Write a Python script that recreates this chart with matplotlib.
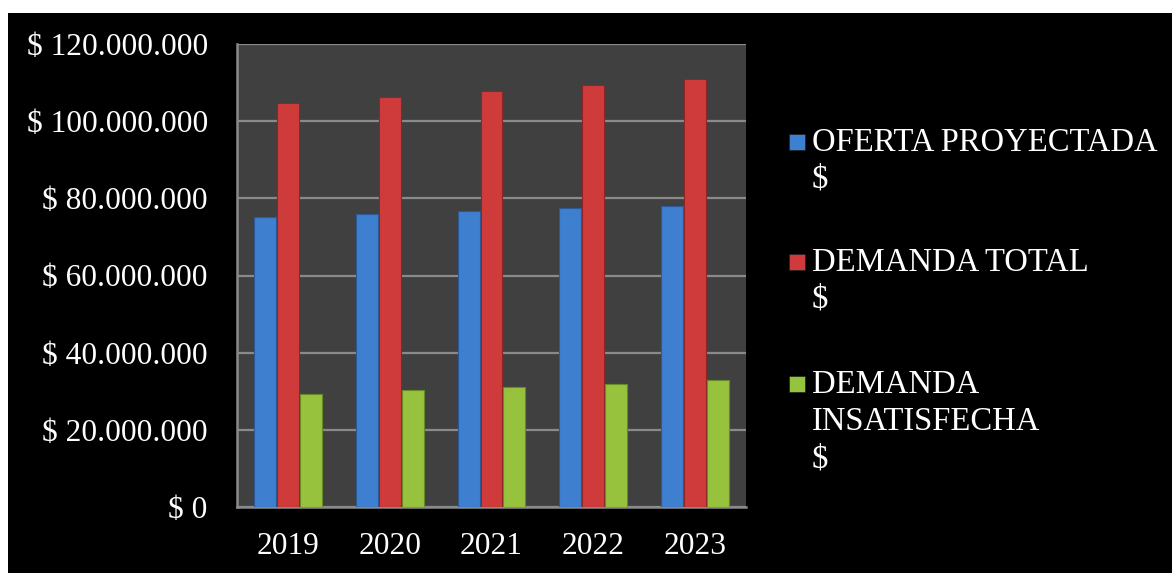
import matplotlib
matplotlib.use("Agg")
import matplotlib.pyplot as plt
from matplotlib.patches import Rectangle
from matplotlib.ticker import FuncFormatter, MultipleLocator
import numpy as np

years = ["2019", "2020", "2021", "2022", "2023"]
oferta = [75.2e6, 76.0e6, 76.8e6, 77.6e6, 78.1e6]
demanda_total = [104.6e6, 106.2e6, 107.9e6, 109.5e6, 111.0e6]
demanda_insat = [29.4e6, 30.2e6, 31.1e6, 31.9e6, 32.9e6]

series_labels = [["OFERTA PROYECTADA", "$"],
                 ["DEMANDA TOTAL", "$"],
                 ["DEMANDA", "INSATISFECHA", "$"]]
colors = ["#3F7FCF", "#CF3B3B", "#97C23E"]
edges = ["#2A5A98", "#8E2626", "#6A8A28"]

plt.rcParams['font.family'] = ['Liberation Serif', 'DejaVu Serif']

W, H = 1172, 573
fig = plt.figure(figsize=(W / 100, H / 100), dpi=100)
fig.patch.set_facecolor("white")
# black chart area (white margin on top and left)
fig.patches.append(Rectangle((8 / W, 0), 1, (H - 13) / H, transform=fig.transFigure,
                             facecolor="black", edgecolor="none", zorder=-10))

ax = fig.add_axes([237 / W, (H - 507) / H, 509 / W, 463 / H])
ax.set_facecolor("#404040")

x = np.arange(len(years))
w = 0.215
off = 0.225
for i, vals in enumerate([oferta, demanda_total, demanda_insat]):
    ax.bar(x + (i - 1) * off, vals, width=w, color=colors[i],
           edgecolor=edges[i], linewidth=0.8, zorder=3)

ax.set_xlim(-0.5, len(years) - 0.5)
ax.set_ylim(0, 120e6)
ax.yaxis.set_major_locator(MultipleLocator(20e6))
ax.yaxis.set_major_formatter(FuncFormatter(lambda v, p: "$ " + f"{int(v):,}".replace(",", ".")))
ax.grid(axis="y", color="#8a8a8a", linewidth=1.6, zorder=1)
ax.set_xticks(x)
ax.set_xticklabels(years)

for s in ["top", "right"]:
    ax.spines[s].set_visible(False)
for s in ["left", "bottom"]:
    ax.spines[s].set_color("#8a8a8a")
    ax.spines[s].set_linewidth(1.8)

ax.tick_params(axis="y", length=0, pad=21, labelsize=22.6, labelcolor="white")
ax.tick_params(axis="x", length=0, pad=18, labelsize=22.6, labelcolor="white")

# legend, drawn by hand so the marker sits on the first line
baselines = [[151, 188], [271, 308], [393, 430, 467]]
for lines, ys, c in zip(series_labels, baselines, colors):
    top = ys[0] - 18
    fig.patches.append(Rectangle((789 / W, 1 - (top + 17) / H), 16 / W, 16 / H,
                                 transform=fig.transFigure, facecolor=c,
                                 edgecolor="#202020", linewidth=0.5))
    for line, yb in zip(lines, ys):
        fig.text(812 / W, 1 - yb / H, line, color="white", fontsize=23.5,
                 ha="left", va="baseline")

fig.savefig("out.png", dpi=100, facecolor=fig.get_facecolor())
